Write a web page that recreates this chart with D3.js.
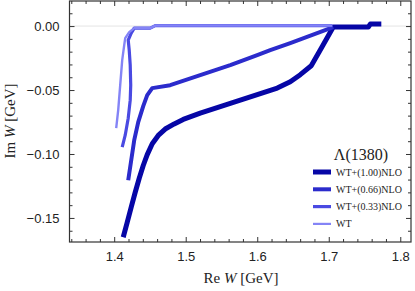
<!DOCTYPE html>
<html><head><meta charset="utf-8">
<script src="https://cdn.jsdelivr.net/npm/d3@7"></script>
<style>body{margin:0;background:#fff}svg{display:block}</style>
</head><body>
<script>
// ---- data ----
const seriesNames = ["WT+(1.00)NLO", "WT+(0.66)NLO", "WT+(0.33)NLO", "WT"];
const reW_100 = [1.4126,1.4182,1.4238,1.4294,1.435,1.4406,1.4462,1.4532,1.4616,1.4713,1.4839,1.4965,1.5203,1.5623,1.6,1.628,1.6462,1.6602,1.6755,1.6909,1.7063,1.7553,1.7581,1.7735];
const imW_100 = [-0.1651,-0.1534,-0.1416,-0.1299,-0.119,-0.109,-0.1005,-0.092,-0.0855,-0.0805,-0.0765,-0.073,-0.068,-0.0605,-0.0535,-0.0485,-0.0435,-0.038,-0.031,-0.016,-0.0008,-0.0008,0.0016,0.0016];
const reW_066 = [1.4196,1.4238,1.428,1.4336,1.4406,1.4462,1.4532,1.4783,1.5203,1.5623,1.6,1.6182,1.6462,1.7063];
const imW_066 = [-0.1205,-0.1049,-0.0892,-0.0751,-0.0626,-0.054,-0.0485,-0.0462,-0.0383,-0.0305,-0.0227,-0.0188,-0.0133,-0.0008];
const reW_033 = [1.4112,1.4154,1.4196,1.4224,1.4231,1.4224,1.421,1.4196,1.4238,1.428,1.4504,1.4574,1.7049];
const imW_033 = [-0.0947,-0.0853,-0.072,-0.0579,-0.0462,-0.0305,-0.0188,-0.011,-0.0055,-0.0016,-0.0016,0.0004,0.0004];
const reW_WT = [1.4028,1.4056,1.4084,1.4112,1.414,1.4154,1.421,1.428,1.4504,1.4574,1.7049];
const imW_WT = [-0.0798,-0.0657,-0.0462,-0.0266,-0.0149,-0.0094,-0.0047,-0.0016,-0.0016,0.0004,0.0004];
const xTicks = [1.4, 1.5, 1.6, 1.7, 1.8];
const yTicks = [0.00, -0.05, -0.10, -0.15];
const legendTitle = "Λ(1380)";

const colors = ["#0606a6", "#2b2bcc", "#4a4ae2", "#8484f6"];
const widths = [5, 4, 3.2, 2.4];
const legWidths = [5, 4, 3.2, 2.2];

const W = 415, H = 291;
const L = 69.5, R = 411, T = 1, B = 242;
const svg = d3.select("body").append("svg").attr("width", W).attr("height", H);

const x = d3.scaleLinear().domain([1.3375, 1.815]).range([L, R]);
const y = d3.scaleLinear().domain([-0.1688, 0.0196]).range([B, T]);

// grid at zero
svg.append("line").attr("x1", L).attr("x2", R).attr("y1", y(0)).attr("y2", y(0))
  .attr("stroke", "#e4e4e4").attr("stroke-width", 1);

const clip = svg.append("clipPath").attr("id", "c").append("rect")
  .attr("x", L).attr("y", T).attr("width", R - L).attr("height", B - T);

const series = [[reW_100, imW_100], [reW_066, imW_066], [reW_033, imW_033], [reW_WT, imW_WT]];
const line = d3.line().x(d => x(d[0])).y(d => y(d[1]));
const g = svg.append("g").attr("clip-path", "url(#c)");
series.forEach((s, i) => {
  const pts = s[0].map((v, k) => [v, s[1][k]]);
  g.append("path").attr("d", line(pts)).attr("fill", "none")
    .attr("stroke", colors[i]).attr("stroke-width", widths[i])
    .attr("stroke-linejoin", "round").attr("stroke-linecap", "butt");
});

// axes
const axisColor = "#333";
const tickFont = "'Liberation Sans', Arial, sans-serif";
const xMinor = d3.range(1.34, 1.82, 0.02).filter(v => Math.abs(Math.round(v * 10) - v * 10) > 1e-6);
const yMinor = d3.range(0.01, -0.17, -0.01).filter(v => Math.abs(Math.round(v * 20) - v * 20) > 1e-6);

function styleAxis(sel) {
  sel.select(".domain").remove();
  sel.selectAll("line").attr("stroke", axisColor);
  sel.selectAll("text").attr("font-family", tickFont).attr("font-size", 13).attr("fill", "#222");
}
svg.append("g").attr("transform", `translate(0,${B})`)
  .call(d3.axisBottom(x).tickValues(xTicks).tickSize(-5).tickPadding(10).tickFormat(d3.format(".1f"))).call(styleAxis);
svg.append("g").attr("transform", `translate(0,${B})`)
  .call(d3.axisBottom(x).tickValues(xMinor).tickSize(-3).tickFormat("")).call(styleAxis);
svg.append("g").attr("transform", `translate(0,${T})`)
  .call(d3.axisTop(x).tickValues(xTicks).tickSize(-5).tickFormat("")).call(styleAxis);
svg.append("g").attr("transform", `translate(0,${T})`)
  .call(d3.axisTop(x).tickValues(xMinor).tickSize(-3).tickFormat("")).call(styleAxis);
svg.append("g").attr("transform", `translate(${L},0)`)
  .call(d3.axisLeft(y).tickValues(yTicks).tickSize(-5).tickPadding(10).tickFormat(d => d3.format(".2f")(d).replace("-", "−"))).call(styleAxis);
svg.append("g").attr("transform", `translate(${L},0)`)
  .call(d3.axisLeft(y).tickValues(yMinor).tickSize(-3).tickFormat("")).call(styleAxis);
svg.append("g").attr("transform", `translate(${R},0)`)
  .call(d3.axisRight(y).tickValues(yTicks).tickSize(-5).tickFormat("")).call(styleAxis);
svg.append("g").attr("transform", `translate(${R},0)`)
  .call(d3.axisRight(y).tickValues(yMinor).tickSize(-3).tickFormat("")).call(styleAxis);

svg.append("rect").attr("x", L).attr("y", T).attr("width", R - L).attr("height", B - T)
  .attr("fill", "none").attr("stroke", axisColor).attr("stroke-width", 1.2);

// axis titles
const serif = "'Liberation Serif', 'Times New Roman', serif";
const xt = svg.append("text").attr("x", 241).attr("y", 283).attr("text-anchor", "middle")
  .attr("font-family", serif).attr("font-size", 15).attr("fill", "#222");
xt.append("tspan").text("Re ");
xt.append("tspan").attr("font-style", "italic").text("W");
xt.append("tspan").text(" [GeV]");
const yt = svg.append("text").attr("transform", `translate(15,121) rotate(-90)`).attr("text-anchor", "middle")
  .attr("font-family", serif).attr("font-size", 15).attr("fill", "#222");
yt.append("tspan").text("Im ");
yt.append("tspan").attr("font-style", "italic").text("W");
yt.append("tspan").text(" [GeV]");

// legend
svg.append("text").attr("x", 361).attr("y", 160).attr("text-anchor", "middle")
  .attr("font-family", serif).attr("font-size", 16).attr("fill", "#222").text(legendTitle);
seriesNames.forEach((n, i) => {
  const yy = 172 + i * 17.3;
  svg.append("line").attr("x1", 313).attr("x2", 331).attr("y1", yy).attr("y2", yy)
    .attr("stroke", colors[i]).attr("stroke-width", legWidths[i]);
  svg.append("text").attr("x", 336).attr("y", yy + 3.5).attr("font-family", serif)
    .attr("font-size", 10).attr("fill", "#222").text(n);
});
</script>
</body></html>
